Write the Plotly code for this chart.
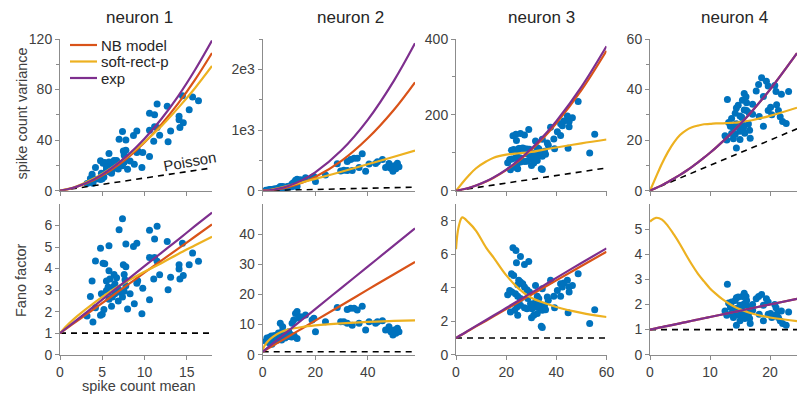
import plotly.graph_objects as go

# ---------------- data ----------------
titles = ["neuron 1", "neuron 2", "neuron 3", "neuron 4"]
model_names = ["NB model", "soft-rect-p", "exp"]

# neuron 1 : spike count mean and Fano factor of each condition
n1_mean = [7.4, 7.0, 10.6, 11.5, 11.2, 12.7, 14.5, 5.8, 4.8, 7.8, 9.1, 8.7, 4.2, 5.1, 5.3, 10.6, 11.2,
           11.5, 15.7, 16.4, 15.3, 14.1, 14.1, 14.6, 14.2, 11.8, 11.1, 13.1, 12.8, 9.8, 9.2, 9.1, 7.5,
           7.8, 5.8, 6.4, 6.7, 5.9, 5.5, 3.8, 5.7, 6.3, 6.9, 7.6, 7.7, 7.8, 8.3, 7.1, 6.5, 6.2, 5.8,
           4.9, 3.6, 6.9, 6.1, 5.2, 4.2, 8.0, 8.8, 9.7, 10.6, 4.8, 5.0, 3.2, 3.9, 7.6, 7.4, 5.5, 6.5]
n1_fano = [6.32, 5.80, 5.78, 5.97, 5.37, 5.26, 5.18, 5.06, 4.94, 5.14, 5.18, 5.03, 4.35, 4.25, 4.22,
           4.52, 4.52, 4.34, 4.72, 4.34, 4.18, 4.18, 3.98, 3.68, 3.52, 3.71, 3.52, 3.60, 3.02, 3.09,
           3.43, 3.32, 4.18, 4.09, 3.90, 3.72, 3.57, 3.52, 3.42, 3.42, 3.14, 3.14, 3.06, 3.72, 3.48,
           3.20, 2.83, 2.90, 2.83, 2.68, 2.58, 2.83, 2.70, 2.49, 2.25, 2.10, 2.18, 2.12, 2.37, 1.90,
           2.55, 1.83, 1.88, 1.80, 1.52, 2.95, 2.68, 2.98, 3.29]

n2_mean = [3.55, 2.9, 4.8, 6.7, 7.6, 8.6, 9.3, 9.9, 11.2, 11.8, 12.5, 13.1, 13.8, 14.4, 13.1, 16.3,
           18.8, 19.5, 20.1, 23.9, 28.4, 29.7, 30.9, 32.2, 33.5, 34.8, 36.0, 37.9, 32.2, 34.1, 36.7,
           39.2, 40.5, 43.0, 43.7, 45.6, 46.8, 48.1, 48.8, 50.1, 50.7, 51.3, 49.6, 51.9,
           2.2, 2.6, 3.0, 3.3, 3.8, 4.2, 4.5, 5.0, 5.5, 6.0, 6.5, 7.2, 8.0, 8.5, 9.0, 10.0, 10.5,
           11.0, 12.0, 2.4, 3.5, 4.0, 6.0, 7.5, 9.5, 1.2, 1.6]
n2_fano = [5.97, 4.87, 5.4, 10.4, 9.3, 7.1, 5.97, 7.6, 10.4, 11.5, 13.7, 14.3, 12.1, 12.6, 5.4, 13.2,
           11.5, 12.1, 7.6, 10.9, 15.7, 10.9, 10.9, 15.0, 15.4, 15.4, 14.8, 16.1, 10.4, 9.8, 10.4,
           8.2, 10.9, 10.4, 10.9, 11.3, 8.2, 9.3, 7.6, 8.2, 7.1, 8.8, 6.5, 7.6,
           5.0, 5.8, 4.4, 6.2, 5.2, 4.6, 6.4, 5.6, 4.8, 6.1, 5.3, 4.9, 6.8, 5.5, 6.5, 6.2, 6.8,
           5.9, 6.3, 4.0, 3.5, 5.9, 7.2, 7.8, 7.0, 4.5, 5.5]

n3_mean = [22.7, 23.9, 25.7, 29.0, 24.1, 27.3, 22.1, 23.0, 25.0, 25.7, 26.6, 24.6, 27.3, 28.3, 29.3,
           20.6, 22.3, 23.7, 24.6, 25.7, 31.7, 34.4, 37.7, 41.7, 42.4, 43.0, 44.4, 45.1, 46.4, 48.7,
           45.1, 41.7, 39.0, 36.8, 35.3, 31.7, 31.0, 32.4, 33.7, 30.3, 28.3, 27.3, 25.7, 24.3, 23.4,
           21.7, 24.6, 30.1, 31.0, 32.4, 34.4, 35.7, 39.3, 44.7, 34.0, 34.4, 53.3, 55.3, 33.0, 29.7,
           28.6, 33.0, 32.4, 36.4, 40.4, 21.4]
n3_fano = [6.38, 6.22, 5.86, 5.56, 5.49, 5.39, 4.83, 4.73, 4.44, 4.34, 4.24, 4.18, 4.04, 3.88, 3.74,
           3.58, 3.74, 3.64, 3.49, 3.35, 4.14, 3.94, 4.44, 4.24, 4.04, 4.28, 4.44, 4.04, 4.14, 4.83,
           3.74, 3.49, 3.49, 3.25, 2.95, 3.15, 2.95, 2.85, 2.75, 2.75, 2.75, 2.81, 2.95, 2.85, 2.65,
           2.55, 2.36, 2.20, 2.36, 2.46, 2.65, 2.69, 2.81, 2.50, 1.70, 1.62, 1.86, 2.69, 3.05, 3.05,
           3.35, 3.35, 3.49, 3.45, 3.84, 3.84]

n4_mean = [12.9, 12.5, 13.1, 13.6, 13.9, 14.2, 14.4, 14.7, 15.0, 15.4, 15.7, 16.0, 15.3, 13.9, 14.4,
           15.0, 15.8, 16.4, 16.7, 16.1, 16.5, 17.1, 17.7, 18.1, 18.6, 19.4, 19.7, 18.9, 18.2, 18.9,
           19.7, 20.1, 20.3, 20.8, 21.0, 21.1, 21.4, 21.9, 23.1, 22.1, 22.7, 21.7, 13.6, 14.2, 14.7,
           15.3, 15.7, 16.1, 14.4, 15.0, 16.6, 15.6, 13.4, 17.1, 12.8]
n4_fano = [2.80, 1.74, 2.06, 2.10, 1.79, 2.16, 2.27, 2.30, 1.97, 2.32, 2.45, 2.32, 1.74, 1.48, 1.17,
           1.35, 1.44, 1.61, 1.24, 1.97, 1.87, 1.77, 2.23, 2.32, 2.40, 2.23, 2.10, 1.97, 1.61, 1.35,
           1.61, 1.64, 1.48, 2.00, 1.87, 1.61, 1.48, 1.74, 1.70, 1.24, 1.17, 1.35, 1.66, 1.57, 1.70,
           1.90, 2.03, 2.16, 1.84, 1.57, 1.44, 1.61, 1.90, 2.00, 1.57]

# model Fano-factor curves, sampled along the spike count mean
n1_cx = [0, 1, 2, 4, 6, 8, 10, 12, 14, 16, 18]
n1_nb = [1.0, 1.28, 1.56, 2.12, 2.68, 3.24, 3.81, 4.37, 4.93, 5.49, 6.05]
n1_soft = [1.0, 1.42, 1.78, 2.40, 2.95, 3.42, 3.85, 4.25, 4.68, 5.08, 5.48]
n1_exp = [1.0, 1.31, 1.62, 2.24, 2.87, 3.49, 4.11, 4.73, 5.35, 5.98, 6.60]

n2_cx = [0, 0.5, 1, 2, 4, 7, 10, 15, 20, 30, 40, 50, 58]
n2_nb = [1.0, 1.26, 1.51, 2.03, 3.06, 4.60, 6.14, 8.71, 11.3, 16.4, 21.6, 26.7, 30.8]
n2_soft = [1.6, 2.6, 3.4, 4.5, 6.0, 7.5, 8.4, 9.2, 9.7, 10.4, 10.9, 11.2, 11.4]
n2_exp = [1.0, 1.35, 1.71, 2.41, 3.82, 5.94, 8.05, 11.6, 15.1, 22.2, 29.2, 36.3, 41.9]

n3_cx = [0, 1, 2.5, 5, 8, 12, 15, 20, 25, 30, 35, 40, 50, 60]
n3_nb = [1.0, 1.09, 1.21, 1.43, 1.69, 2.03, 2.29, 2.72, 3.15, 3.58, 4.01, 4.44, 5.30, 6.15]
n3_soft = [6.3, 7.6, 8.2, 7.9, 7.4, 6.4, 5.8, 4.75, 3.95, 3.4, 3.1, 2.85, 2.5, 2.25]
n3_exp = [1.0, 1.09, 1.22, 1.45, 1.72, 2.07, 2.34, 2.79, 3.24, 3.69, 4.14, 4.59, 5.48, 6.35]

n4_cx = [0, 1, 2, 3, 4, 5, 6, 7, 8, 9, 10, 11, 12, 13, 14, 15, 17, 20, 24.5]
n4_nb = [1.0, 1.05, 1.10, 1.15, 1.20, 1.25, 1.30, 1.35, 1.40, 1.45, 1.50, 1.55, 1.60, 1.65, 1.70,
         1.75, 1.85, 2.0, 2.22]
n4_soft = [5.30, 5.45, 5.38, 5.12, 4.78, 4.40, 3.98, 3.58, 3.22, 2.92, 2.64, 2.42, 2.22, 2.06, 1.92,
           1.81, 1.64, 1.48, 1.34]
n4_exp = [1.0, 1.05, 1.10, 1.15, 1.20, 1.25, 1.30, 1.35, 1.40, 1.45, 1.50, 1.55, 1.60, 1.65, 1.70,
          1.75, 1.85, 2.0, 2.22]

# axis ticks
var_ticks = [[0, 40, 80, 120], [0, 1000, 2000], [0, 200, 400], [0, 20, 40, 60]]
var_ticktext = [["0", "40", "80", "120"], ["0", "1e3", "2e3"], ["0", "200", "400"], ["0", "20", "40", "60"]]
var_minor = [[20, 60, 100], [500, 1500, 2500], [100, 300], [10, 30, 50]]
var_range = [120, 2500, 400, 60]
fano_ticks = [[0, 1, 2, 3, 4, 5, 6], [0, 10, 20, 30, 40], [0, 2, 4, 6, 8], [0, 1, 2, 3, 4, 5]]
fano_range = [7, 50, 9, 6]
mean_ticks = [[0, 5, 10, 15], [0, 20, 40], [0, 20, 40, 60], [0, 10, 20]]
mean_range = [18, 58, 60, 24.5]

# ---------------- figure ----------------
W, H = 797, 401
BLUE, RED, YEL, PUR = "#0072BD", "#D95319", "#EDB120", "#7E2F8E"
MODEL_COLORS = [RED, YEL, PUR]
FONT = "Liberation Sans, Arial, sans-serif"
GREY = "#404040"
AXC = "#8c8c8c"

col_px = [(60, 212), (262.7, 415), (456, 606.5), (650, 797)]
row_px = [(39, 190.7), (204, 354.7)]

scatter_data = [(n1_mean, n1_fano), (n2_mean, n2_fano), (n3_mean, n3_fano), (n4_mean, n4_fano)]
curve_data = [(n1_cx, n1_nb, n1_soft, n1_exp), (n2_cx, n2_nb, n2_soft, n2_exp),
              (n3_cx, n3_nb, n3_soft, n3_exp), (n4_cx, n4_nb, n4_soft, n4_exp)]

fig = go.Figure()
layout = {}


def dom_x(c):
    a, b = col_px[c]
    return [a / W, b / W]


def dom_y(r):
    top, bot = row_px[r]
    return [1 - bot / H, 1 - top / H]


common_axis = dict(ticks="outside", ticklen=4, tickcolor=AXC, showline=True, linecolor=AXC,
                   linewidth=1, showgrid=False, zeroline=False, automargin=False,
                   tickfont=dict(family=FONT, size=14, color=GREY))

for i in range(4):
    for r in range(2):
        k = i + 1 + 4 * r
        xa = "x" if k == 1 else f"x{k}"
        ya = "y" if k == 1 else f"y{k}"
        means, fanos = scatter_data[i]
        cx, nb, soft, ex = curve_data[i]
        if r == 0:
            yv = [m * f for m, f in zip(means, fanos)]
            curves = [[x * f for x, f in zip(cx, c)] for c in (nb, soft, ex)]
            pois = [cx[0], cx[-1]]
        else:
            yv = fanos
            curves = [nb, soft, ex]
            pois = [1, 1]
        fig.add_trace(go.Scatter(x=means, y=yv, mode="markers", xaxis=xa, yaxis=ya,
                                 marker=dict(size=7, color=BLUE, line=dict(width=0)),
                                 showlegend=False, hoverinfo="skip"))
        fig.add_trace(go.Scatter(x=[cx[0], cx[-1]], y=pois, mode="lines", xaxis=xa, yaxis=ya,
                                 line=dict(color="black", width=1.6, dash="6px,5px"),
                                 showlegend=False, hoverinfo="skip"))
        for name, col, yc in zip(model_names, MODEL_COLORS, curves):
            fig.add_trace(go.Scatter(x=cx, y=yc, mode="lines", xaxis=xa, yaxis=ya, name=name,
                                     line=dict(color=col, width=2.2, shape="spline"),
                                     showlegend=False, hoverinfo="skip"))

        xkey = "xaxis" if k == 1 else f"xaxis{k}"
        ykey = "yaxis" if k == 1 else f"yaxis{k}"
        layout[xkey] = dict(domain=dom_x(i), anchor=ya, range=[0, mean_range[i]],
                            tickmode="array", tickvals=mean_ticks[i],
                            showticklabels=(r == 1), **common_axis)
        if r == 0:
            layout[ykey] = dict(domain=dom_y(r), anchor=xa, range=[0, var_range[i]],
                                tickmode="array", tickvals=var_ticks[i], ticktext=var_ticktext[i],
                                minor=dict(tickmode="array", tickvals=var_minor[i], ticks="outside",
                                           ticklen=3, tickcolor=AXC),
                                **common_axis)
        else:
            layout[ykey] = dict(domain=dom_y(r), anchor=xa, range=[0, fano_range[i]],
                                tickmode="array", tickvals=fano_ticks[i], **common_axis)

# legend (drawn in the first panel)
shapes = []
ann = []
leg_y = [45, 61.5, 78]
for name, col, ly in zip(model_names, MODEL_COLORS, leg_y):
    shapes.append(dict(type="line", xref="paper", yref="paper", x0=70 / W, x1=97 / W,
                       y0=1 - ly / H, y1=1 - ly / H, line=dict(color=col, width=2.2)))
    ann.append(dict(text=name, x=99 / W, y=1 - ly / H, xref="paper", yref="paper",
                    showarrow=False, xanchor="left", yanchor="middle",
                    font=dict(family=FONT, size=15, color="#262626")))

title_x = [139.5, 350.5, 541.7, 734.7]
for t, tx in zip(titles, title_x):
    ann.append(dict(text=t, x=tx / W, y=1 - 17.5 / H, xref="paper", yref="paper",
                    showarrow=False, xanchor="center", yanchor="middle",
                    font=dict(family=FONT, size=17, color="#262626")))
ann.append(dict(text="spike count variance", x=21.5 / W, y=1 - 114 / H, xref="paper", yref="paper",
                showarrow=False, textangle=-90, xanchor="center", yanchor="middle",
                font=dict(family=FONT, size=14.5, color=GREY)))
ann.append(dict(text="Fano factor", x=21 / W, y=1 - 280 / H, xref="paper", yref="paper",
                showarrow=False, textangle=-90, xanchor="center", yanchor="middle",
                font=dict(family=FONT, size=14.5, color=GREY)))
ann.append(dict(text="spike count mean", x=139 / W, y=1 - 386 / H, xref="paper", yref="paper",
                showarrow=False, xanchor="center", yanchor="middle",
                font=dict(family=FONT, size=14.5, color=GREY)))
ann.append(dict(text="Poisson", x=189 / W, y=1 - 161 / H, xref="paper", yref="paper",
                showarrow=False, textangle=-10, xanchor="center", yanchor="middle",
                font=dict(family=FONT, size=15, color="#262626")))

fig.update_layout(
    width=W, height=H, margin=dict(l=0, r=0, t=0, b=0, autoexpand=False),
    paper_bgcolor="white", plot_bgcolor="white",
    showlegend=False,
    shapes=shapes,
    annotations=ann,
    **layout,
)

# the page's default 8px body margin would shift the figure; remove it
fig.write_html("out.html", config={"displayModeBar": False},
               post_script="document.body.style.margin='0';document.body.style.overflow='hidden';")
